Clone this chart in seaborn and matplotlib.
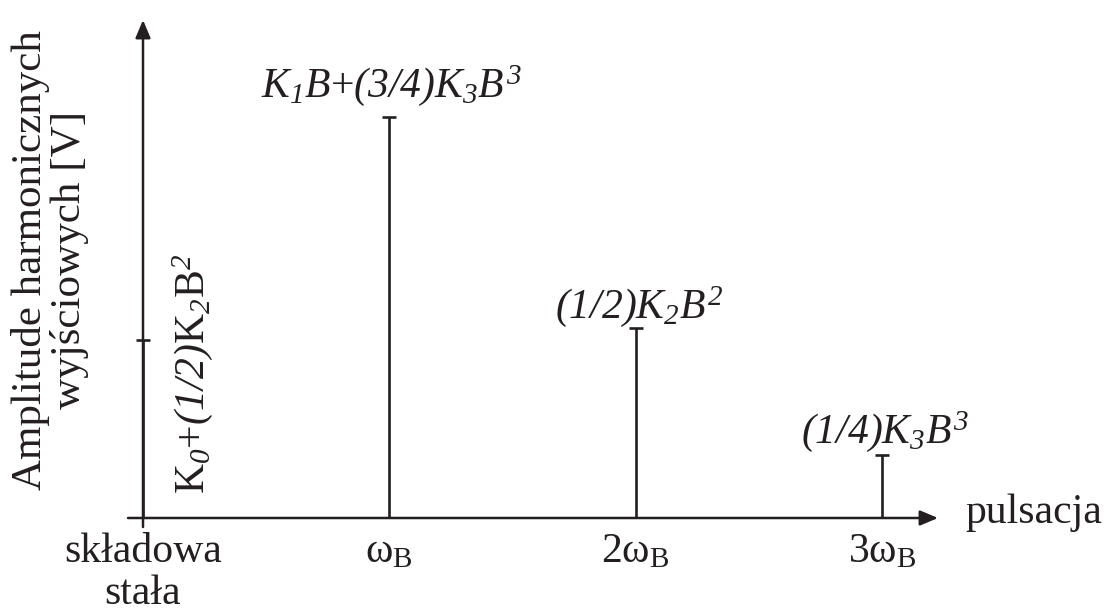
import matplotlib
matplotlib.use("Agg")
import matplotlib.pyplot as plt
import seaborn as sns
import pandas as pd

# Harmonic spectrum of a nonlinear element's output
positions = [0, 1, 2, 3]
categories = ["składowa\nstała", r"$\mathsf{ω}_\mathsf{B}$", r"2$\mathsf{ω}_\mathsf{B}$", r"3$\mathsf{ω}_\mathsf{B}$"]
amplitudes = [1.78, 4.01, 1.90, 0.63]
amp_labels = [
    r"$\mathsf{K}_{0}$+$(1/2)\mathsf{K}_{2}\mathsf{B}^{2}$",
    r"$K_1B$+$(3/4)K_3B^3$",
    r"$(1/2)K_2B^2$",
    r"$(1/4)K_3B^3$",
]
y_title = "Amplitude harmonicznych\nwyjściowych [V]"
x_title = "pulsacja"

df = pd.DataFrame({"pos": positions, "amp": amplitudes})

sns.set_theme(style="white")
plt.rcParams["font.family"] = ["Liberation Serif", "DejaVu Serif"]
# math: italic for letters and digits, \mathsf used for the upright serif glyphs
plt.rcParams["mathtext.fontset"] = "custom"
plt.rcParams["mathtext.rm"] = "Liberation Serif:italic"
plt.rcParams["mathtext.it"] = "Liberation Serif:italic"
plt.rcParams["mathtext.sf"] = "Liberation Serif"
plt.rcParams["mathtext.bf"] = "Liberation Serif:bold"

INK = "#231f20"
W, H = 1104, 611
X0, Y0 = 143, 518     # pixel position of the origin
SX, SY = 246.3, 100.0  # pixels per data unit

fig = plt.figure(figsize=(W / 100, H / 100), dpi=100)
ax = fig.add_axes([0, 0, 1, 1])
ax.set_xlim(-X0 / SX, (W - X0) / SX)
ax.set_ylim((Y0 - H) / SY, Y0 / SY)
ax.axis("off")


def px(x):
    return (x - X0) / SX


def py(y):
    return (Y0 - y) / SY


# axes with arrow heads
arrow = dict(arrowstyle="-|>,head_length=0.9,head_width=0.38", color=INK, lw=1.8,
             shrinkA=0, shrinkB=0, mutation_scale=12)
ax.annotate("", xy=(0, py(20)), xytext=(0, py(527)), arrowprops=arrow)
ax.annotate("", xy=(px(938), 0), xytext=(px(128), 0), arrowprops=arrow)

# spectral lines with caps
ax.vlines(df["pos"], 0, df["amp"], color=INK, lw=1.9)
sns.scatterplot(data=df, x="pos", y="amp", marker="_", s=95, color=INK,
                linewidth=1.9, ax=ax, legend=False, zorder=3)

fs = 30
# amplitude annotations
ax.text(px(193), py(374), amp_labels[0], rotation=90, ha="center", va="center",
        fontsize=fs, color=INK)
label_xy = [None, (391, 97), (639, 318), (885, 443)]
for lab, xy in zip(amp_labels[1:], label_xy[1:]):
    ax.text(px(xy[0]), py(xy[1]), lab, ha="center", va="baseline", fontsize=fs, color=INK)

# category labels under the axis
for pos, cat in zip(positions, categories):
    for i, line in enumerate(cat.split("\n")):
        ax.text(pos, py(562 + 42 * i), line, ha="center", va="baseline",
                fontsize=fs, color=INK)

ax.text(px(965), py(523), x_title, ha="left", va="baseline", fontsize=fs, color=INK)
ax.text(px(50), py(260), y_title, rotation=90, ha="center", va="center",
        multialignment="center", linespacing=1.0, fontsize=31, color=INK)

fig.savefig("out.png", dpi=100, facecolor="white")
